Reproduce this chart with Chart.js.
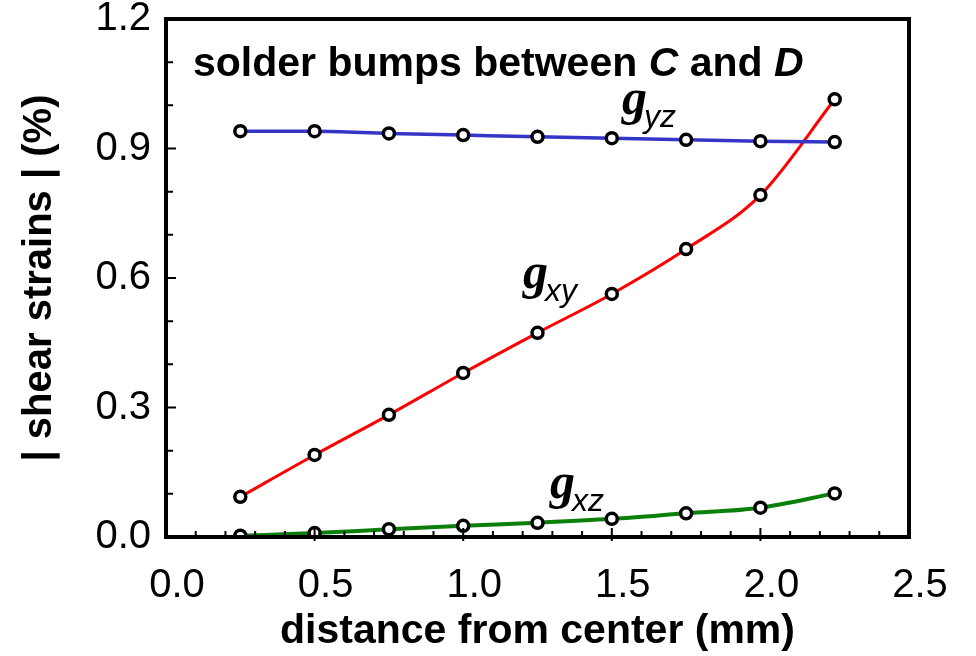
<!DOCTYPE html>
<html>
<head>
<meta charset="utf-8">
<title>shear strains</title>
<script src="https://cdn.jsdelivr.net/npm/chart.js@4.4.1/dist/chart.umd.min.js"></script>
<style>
  html, body { margin: 0; padding: 0; background: #fff; }
  #wrap { width: 976px; height: 656px; }
</style>
</head>
<body>
<div id="wrap"><canvas id="strainChart" width="976" height="656"></canvas></div>
<script>
// data
var distance = [0.25, 0.5, 0.75, 1.0, 1.25, 1.5, 1.75, 2.0, 2.25];
var gammaYZ = [0.940, 0.940, 0.935, 0.931, 0.927, 0.924, 0.920, 0.917, 0.915];
var gammaXY = [0.093, 0.190, 0.283, 0.380, 0.473, 0.563, 0.667, 0.792, 1.014];
var gammaXZ = [0.003, 0.009, 0.018, 0.026, 0.033, 0.042, 0.055, 0.068, 0.101];

var xTicks = [0.0, 0.5, 1.0, 1.5, 2.0, 2.5];
var yTicks = [0.0, 0.3, 0.6, 0.9, 1.2];

// curve names, anchored in data units (left of the g, its baseline)
var curveNames = ['yz', 'xy', 'xz'];
var curveNameX = [1.534, 1.201, 1.292];
var curveNameY = [0.979, 0.577, 0.090];

var SANS = "'Liberation Sans', Arial, Helvetica, sans-serif";
var SERIF = "'Liberation Serif', 'Times New Roman', serif";

function toPoints(ys) {
  return distance.map(function(x, i) { return {x: x, y: ys[i]}; });
}

function series(ys, color, width) {
  return {
    data: toPoints(ys),
    borderColor: color,
    borderWidth: width,
    cubicInterpolationMode: 'monotone',
    pointRadius: 5.5,
    pointBorderWidth: 3.5,
    pointBorderColor: '#000',
    pointBackgroundColor: '#fff',
    fill: false
  };
}

// box round the plot and the inward tick marks
var framePlugin = {
  id: 'frame',
  afterDraw: function(chart) {
    var ctx = chart.ctx, a = chart.chartArea;
    var xs = chart.scales.x, ys = chart.scales.y;
    ctx.save();
    ctx.strokeStyle = '#000';
    ctx.lineWidth = 2;
    ctx.beginPath();
    for (var i = 0; i <= 12; i++) {
      var py = ys.getPixelForValue(i / 10);
      var major = (i % 3 === 0);
      ctx.moveTo(a.left, py);
      ctx.lineTo(a.left + (major ? 10 : 7), py);
    }
    for (var j = 1; j < 25; j++) {
      var px = xs.getPixelForValue(j / 10);
      var maj = (j % 5 === 0);
      ctx.moveTo(px, a.bottom + (maj ? 4 : 0));
      ctx.lineTo(px, a.bottom - (maj ? 9 : 6));
    }
    ctx.stroke();
    ctx.lineWidth = 4;
    ctx.strokeRect(a.left, a.top, a.right - a.left, a.bottom - a.top);
    ctx.restore();
  }
};

var textPlugin = {
  id: 'texts',
  afterDraw: function(chart) {
    var ctx = chart.ctx, a = chart.chartArea;
    var xs = chart.scales.x, ys = chart.scales.y;
    ctx.save();
    ctx.fillStyle = '#000';
    ctx.textBaseline = 'alphabetic';
    ctx.textAlign = 'left';

    // heading inside the plot
    var parts = [
      ['solder bumps between ', 'bold'],
      ['C', 'italic bold'],
      [' and ', 'bold'],
      ['D', 'italic bold']
    ];
    var tx = a.left + 27, ty = a.top + 57;
    parts.forEach(function(p) {
      ctx.font = p[1] + ' 41px ' + SANS;
      ctx.fillText(p[0], tx, ty);
      tx += ctx.measureText(p[0]).width;
    });

    // gamma names on the curves
    for (var i = 0; i < curveNames.length; i++) {
      var gx = xs.getPixelForValue(curveNameX[i]);
      var gy = ys.getPixelForValue(curveNameY[i]);
      ctx.font = 'italic bold 50px ' + SERIF;
      ctx.fillText('g', gx, gy);
      ctx.font = 'italic 32px ' + SANS;
      ctx.fillText(curveNames[i], gx + 22, gy + 13);
    }
    ctx.restore();
  }
};

var ctx = document.getElementById('strainChart').getContext('2d');

var strainChart = new Chart(ctx, {
  type: 'line',
  data: {
    datasets: [
      series(gammaYZ, '#3535c8', 3.5),
      series(gammaXY, '#ff0000', 3),
      series(gammaXZ, '#0a800a', 4)
    ]
  },
  options: {
    responsive: false,
    animation: false,
    layout: { padding: { top: 19, right: 67, left: 0, bottom: 0 } },
    plugins: {
      legend: { display: false },
      tooltip: { enabled: false }
    },
    scales: {
      x: {
        type: 'linear',
        min: 0,
        max: 2.5,
        grid: { display: false, drawTicks: false },
        border: { display: false },
        afterBuildTicks: function(axis) {
          axis.ticks = xTicks.map(function(v) { return {value: v}; });
        },
        afterFit: function(axis) {
          axis.height = 119;
          axis.paddingLeft = 0;
          axis.paddingRight = 0;
        },
        ticks: {
          padding: 25,
          labelOffset: 11,
          color: '#000',
          font: { family: SANS, size: 40 },
          callback: function(v) { return v.toFixed(1); }
        },
        title: {
          display: true,
          text: 'distance from center (mm)',
          color: '#000',
          padding: { top: 0, bottom: 0 },
          font: { family: SANS, size: 41, weight: 'bold', lineHeight: 1.2 }
        }
      },
      y: {
        type: 'linear',
        min: 0,
        max: 1.2,
        grid: { display: false, drawTicks: false },
        border: { display: false },
        afterBuildTicks: function(axis) {
          axis.ticks = yTicks.map(function(v) { return {value: v}; });
        },
        afterFit: function(axis) {
          axis.width = 166;
          axis.paddingTop = 0;
          axis.paddingBottom = 0;
        },
        ticks: {
          padding: 15,
          color: '#000',
          font: { family: SANS, size: 40 },
          callback: function(v) { return v.toFixed(1); }
        },
        title: {
          display: true,
          text: '| shear strains | (%)',
          color: '#000',
          padding: { top: 16, bottom: 0 },
          font: { family: SANS, size: 40, weight: 'bold', lineHeight: 1.2 }
        }
      }
    }
  },
  plugins: [framePlugin, textPlugin]
});
</script>
</body>
</html>
